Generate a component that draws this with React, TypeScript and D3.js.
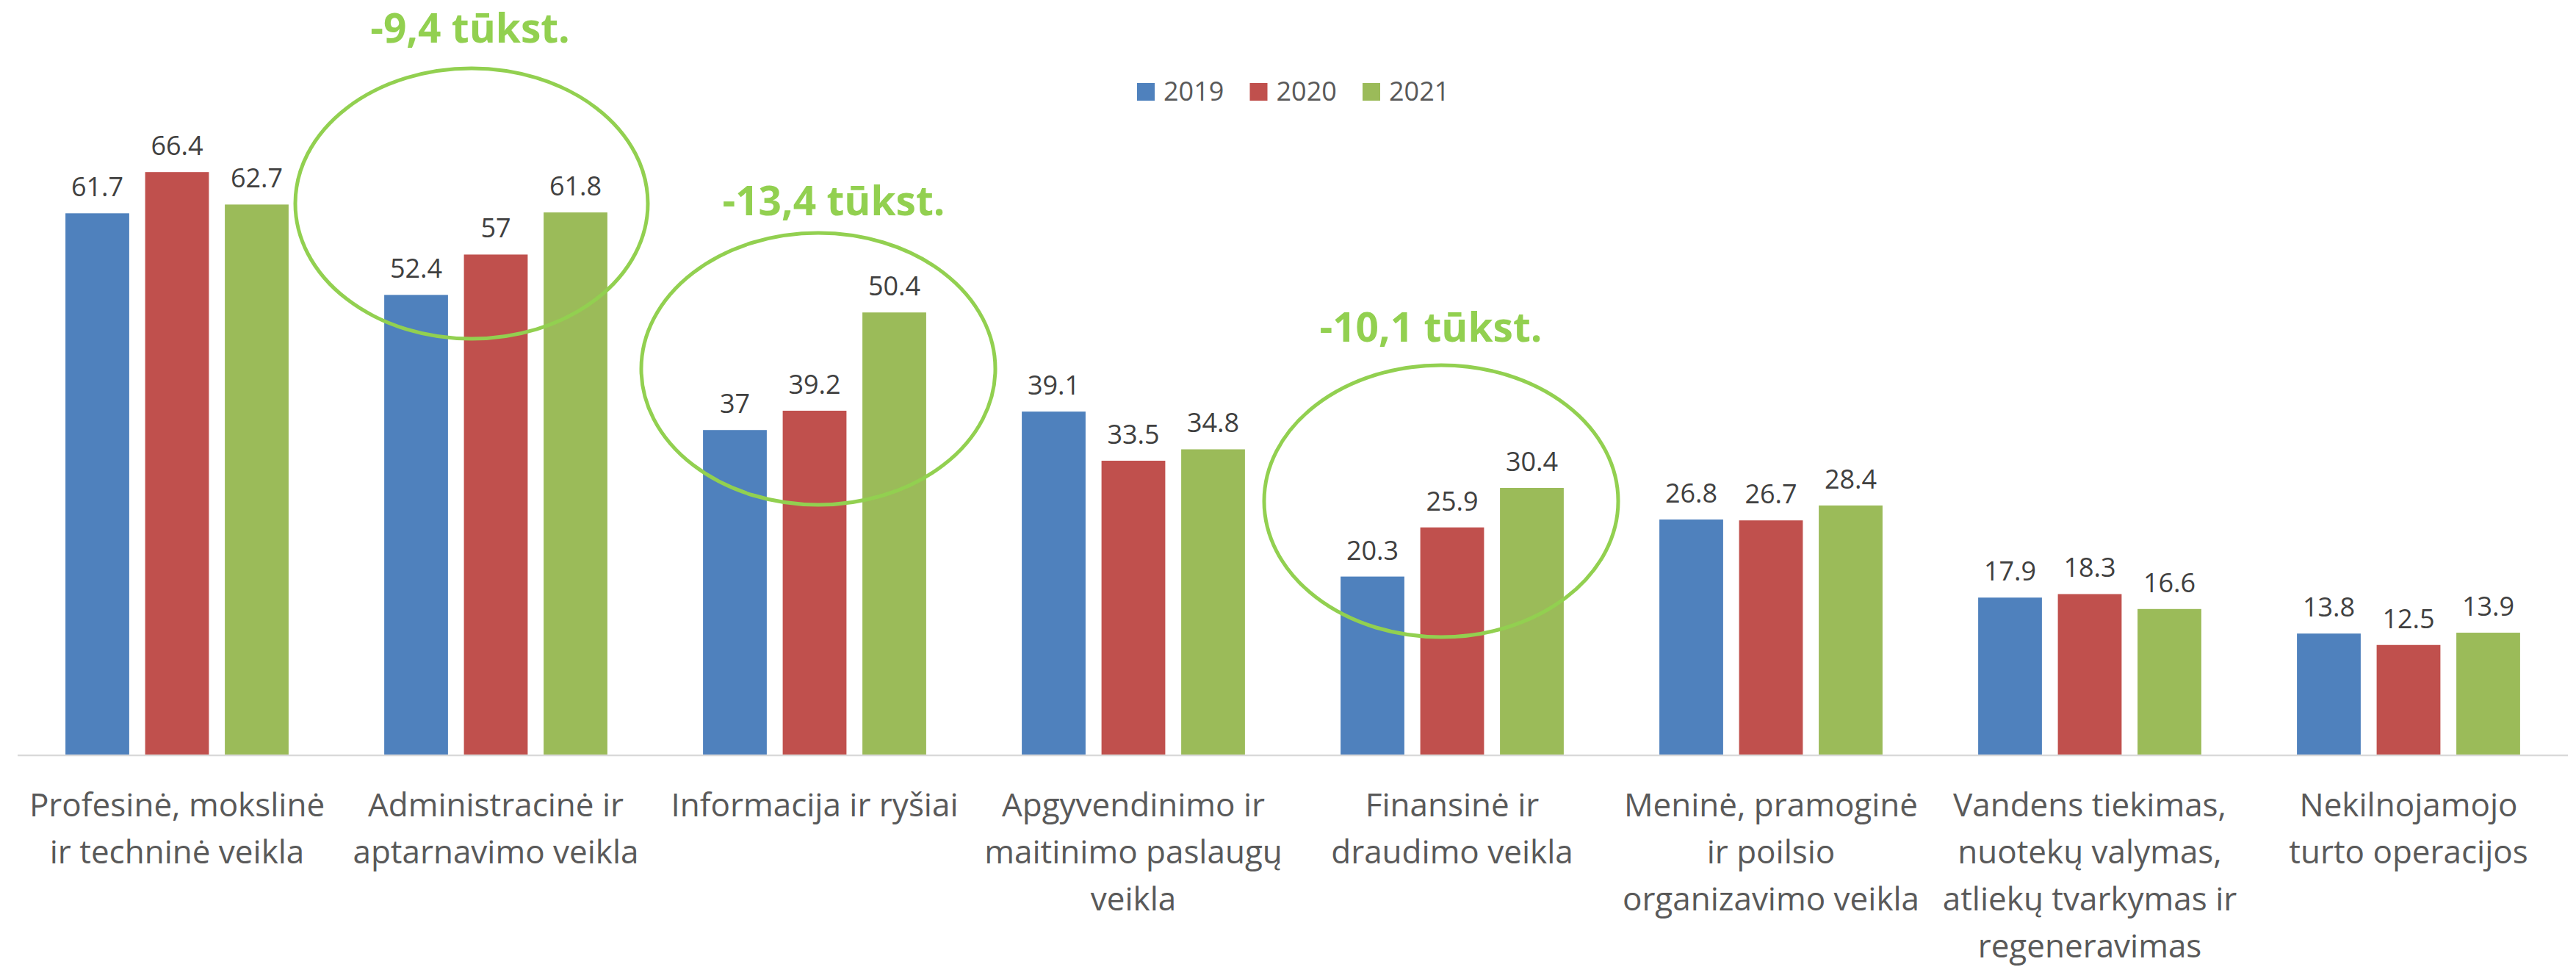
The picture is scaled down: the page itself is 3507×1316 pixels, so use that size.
import React from "react";
import * as d3 from "d3";

const categories: string[][] = [
  ["Profesinė, mokslinė", "ir techninė veikla"],
  ["Administracinė ir", "aptarnavimo veikla"],
  ["Informacija ir ryšiai"],
  ["Apgyvendinimo ir", "maitinimo paslaugų", "veikla"],
  ["Finansinė ir", "draudimo veikla"],
  ["Meninė, pramoginė", "ir poilsio", "organizavimo veikla"],
  ["Vandens tiekimas,", "nuotekų valymas,", "atliekų tvarkymas ir", "regeneravimas"],
  ["Nekilnojamojo", "turto operacijos"],
];
const years = ["2019", "2020", "2021"];
const values2019 = [61.7, 52.4, 37, 39.1, 20.3, 26.8, 17.9, 13.8];
const values2020 = [66.4, 57, 39.2, 33.5, 25.9, 26.7, 18.3, 12.5];
const values2021 = [62.7, 61.8, 50.4, 34.8, 30.4, 28.4, 16.6, 13.9];
const seriesColors = ["#4f81bd", "#c0504d", "#9bbb59"];
const annotationTexts = ["-9,4 tūkst.", "-13,4 tūkst.", "-10,1 tūkst."];
const annotationCategory = [1, 2, 4];

// layout (pixels)
const W = 3507;
const H = 1316;
const X0 = 24;
const X1 = 3496;
const BASE = 1027;
const PX_PER_UNIT = 11.94;
const FONT = "'Open Sans', 'Noto Sans', sans-serif";
const ANN_GREEN = "#92d050";
// annotation geometry: offset of ellipse centre from band centre, etc.
const annLayout = [
  { dx: -33, cy: 277, rx: 240, ry: 184, tdx: -35, ty: 58 },
  { dx: 5, cy: 502, rx: 241, ry: 185, tdx: 26, ty: 293 },
  { dx: -15, cy: 682, rx: 241, ry: 185, tdx: -29, ty: 465 },
];

export default function App() {
  const series = [values2019, values2020, values2021];
  const idx = categories.map((_, i) => String(i));
  const x = d3.scaleBand<string>().domain(idx).range([X0, X1]).padding(0);
  const xs = d3
    .scaleBand<string>()
    .domain(years)
    .range([0, x.step()])
    .paddingInner(0.2)
    .paddingOuter(0.6);
  const y = d3
    .scaleLinear()
    .domain([0, 70])
    .range([BASE, BASE - 70 * PX_PER_UNIT]);

  const legendX0 = 1548;
  const legendStep = 153.5;

  return (
    <svg
      width={W}
      height={H}
      viewBox={`0 0 ${W} ${H}`}
      style={{ position: "absolute", left: 0, top: 0, background: "#fff" }}
    >
      <rect x={0} y={0} width={W} height={H} fill="#fff" />
      {/* bars */}
      {idx.map((c, ci) =>
        years.map((yr, si) => {
          const v = series[si][ci];
          const bx = (x(c) as number) + (xs(yr) as number);
          return (
            <g key={`${c}-${yr}`}>
              <rect
                x={bx}
                y={y(v)}
                width={xs.bandwidth()}
                height={BASE - y(v)}
                fill={seriesColors[si]}
              />
              <text
                x={bx + xs.bandwidth() / 2}
                y={y(v) - 23}
                textAnchor="middle"
                fontFamily={FONT}
                fontSize={36}
                fill="#404040"
              >
                {String(v)}
              </text>
            </g>
          );
        })
      )}
      {/* axis line */}
      <line x1={X0} x2={X1} y1={BASE + 1} y2={BASE + 1} stroke="#d9d9d9" strokeWidth={2.5} />
      {/* category labels */}
      {idx.map((c, ci) => (
        <text
          key={`lab-${c}`}
          textAnchor="middle"
          fontFamily={FONT}
          fontSize={44}
          fill="#595959"
        >
          {categories[ci].map((line, li) => (
            <tspan key={li} x={(x(c) as number) + x.bandwidth() / 2} y={1111 + li * 64}>
              {line}
            </tspan>
          ))}
        </text>
      ))}
      {/* legend */}
      {years.map((yr, si) => (
        <g key={`leg-${yr}`} transform={`translate(${legendX0 + si * legendStep},0)`}>
          <rect x={0} y={113} width={24} height={24} fill={seriesColors[si]} />
          <text x={36} y={137} fontFamily={FONT} fontSize={36} fill="#595959">
            {yr}
          </text>
        </g>
      ))}
      {/* annotations */}
      {annotationTexts.map((t, ai) => {
        const c = String(annotationCategory[ai]);
        const cx = (x(c) as number) + x.bandwidth() / 2;
        const L = annLayout[ai];
        return (
          <g key={`ann-${ai}`}>
            <ellipse
              cx={cx + L.dx}
              cy={L.cy}
              rx={L.rx}
              ry={L.ry}
              fill="none"
              stroke={ANN_GREEN}
              strokeWidth={5}
            />
            <text
              x={cx + L.tdx}
              y={L.ty}
              textAnchor="middle"
              fontFamily={FONT}
              fontWeight="bold"
              fontSize={55}
              fill={ANN_GREEN}
            >
              {t}
            </text>
          </g>
        );
      })}
    </svg>
  );
}
